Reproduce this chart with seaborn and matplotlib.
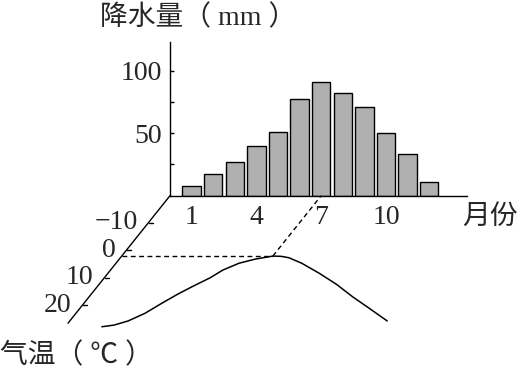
import numpy as np
import pandas as pd
import matplotlib
matplotlib.use("Agg")
import matplotlib.pyplot as plt
import matplotlib.transforms as mtransforms
import seaborn as sns

# ---------------- data ----------------
months = list(range(1, 13))
rain_mm = [8, 17, 27, 40, 51, 77, 91, 82, 71, 50, 33, 11]
rain_major_ticks = [50, 100]
rain_minor_ticks = [25, 75]
month_ticks = [1, 4, 7, 10]

curve_month = [1.7, 2.2, 2.7, 3.2, 3.6, 4.0, 4.4, 4.9, 5.2, 5.7, 6.3, 7.0,
               7.4, 7.8, 8.6, 9.8, 11.0, 12.2, 13.4, 14.7]
curve_temp = [27.9, 27.3, 25.8, 23.0, 19.4, 16.1, 13.3, 10.1, 7.3, 4.8, 3.3, 2.2,
              2.3, 2.8, 4.8, 8.5, 12.5, 17.0, 21.2, 25.8]
temp_ticks = [-10, 0, 10, 20]
temp_tick_labels = ["\u221210", "0", "10", "20"]

title_rain = "降水量（ mm ）"
title_month = "月份"
title_temp = "气温（ ℃ ）"

# ---------------- style ----------------
sns.set_style("white")
plt.rcParams["font.family"] = ["Liberation Serif", "Noto Sans CJK SC"]
plt.rcParams["axes.unicode_minus"] = True
FS = 20

W, H = 524, 373
fig = plt.figure(figsize=(W / 100, H / 100), dpi=100)
fig.patch.set_facecolor("white")

# rainfall axes
ax = fig.add_axes([170 / W, 1 - 195.7 / H, 296.7 / W, 154 / H])
# temperature plane axes (below baseline, sheared)
ax_t = fig.add_axes([170 / W, 1 - 335 / H, 296.7 / W, (335 - 195.7) / H])

XLIM = (0, 13.74)

df_rain = pd.DataFrame({"month": months, "rain": rain_mm})
sns.barplot(data=df_rain, x="month", y="rain", native_scale=True, width=0.85,
            color="#b0b0b0", saturation=1, edgecolor="black", linewidth=1.0,
            errorbar=None, ax=ax)
ax.set_xlim(*XLIM)
ax.set_ylim(0, 123.2)
ax.set_xlabel("")
ax.set_ylabel("")
for s in ["top", "right"]:
    ax.spines[s].set_visible(False)
for s in ["left", "bottom"]:
    ax.spines[s].set_color("black")
    ax.spines[s].set_linewidth(1.0)
ax.set_yticks(rain_major_ticks)
ax.set_yticks(rain_minor_ticks, minor=True)
ax.set_yticklabels([str(v) for v in rain_major_ticks])
ax.tick_params(axis="y", which="both", direction="in", length=3.2, width=1.0,
               color="black", labelsize=FS, pad=6, left=True)
ax.set_xticks(month_ticks)
ax.set_xticklabels([str(m) for m in month_ticks])
ax.tick_params(axis="x", length=0, labelsize=FS, pad=7)
ax.patch.set_alpha(0)

# temperature plane with shear transform (parallel to diagonal axis)
ax_t.set_xlim(*XLIM)
T_TOP, T_BOTTOM = -19.75, 30.9
ax_t.set_ylim(T_BOTTOM, T_TOP)
ax_t.axis("off")
ax_t.patch.set_alpha(0)

k = 0.8
Y0 = ax_t.get_position().y1 * fig.bbox.height
shear = ax_t.transData + mtransforms.Affine2D().translate(0, -Y0).skew(np.arctan(k), 0).translate(0, Y0)

T_AXIS_END = 26.6
ax_t.plot([XLIM[0], XLIM[0]], [T_TOP, T_AXIS_END], color="black", lw=1.0,
          transform=shear, clip_on=False)
for t, lab in zip(temp_ticks, temp_tick_labels):
    ax_t.plot([XLIM[0], XLIM[0] + 0.2], [t, t], color="black", lw=1.0,
              transform=shear, clip_on=False)
    ax_t.annotate(lab, xy=(XLIM[0], t), xycoords=shear, xytext=(-8, 0),
                  textcoords="offset points", ha="right", va="center",
                  fontsize=FS, annotation_clip=False)

df_t = pd.DataFrame({"month": curve_month, "temp": curve_temp})
sns.lineplot(data=df_t, x="month", y="temp", estimator=None, sort=False,
             color="black", lw=1.1, ax=ax_t, transform=shear, clip_on=False)
ax_t.set_xlim(*XLIM)
ax_t.set_ylim(T_BOTTOM, T_TOP)
ax_t.axis("off")

i_pk = int(np.argmin(curve_temp))
m_pk, t_pk = curve_month[i_pk], curve_temp[i_pk]
ax_t.plot([XLIM[0], m_pk], [t_pk, t_pk], color="black", lw=1.0,
          dashes=(3.5, 2.5), transform=shear, clip_on=False)
ax_t.plot([m_pk, m_pk], [t_pk, T_TOP], color="black", lw=1.0,
          dashes=(3.5, 2.5), transform=shear, clip_on=False)

# titles
fig.text(100 / W, 1 - 18 / H, title_rain, ha="left", va="center", fontsize=FS)
fig.text(462 / W, 1 - 217 / H, title_month, ha="left", va="center", fontsize=FS)
fig.text(0 / W, 1 - 356 / H, title_temp, ha="left", va="center", fontsize=FS)

fig.savefig("out.png", dpi=100, facecolor="white")
